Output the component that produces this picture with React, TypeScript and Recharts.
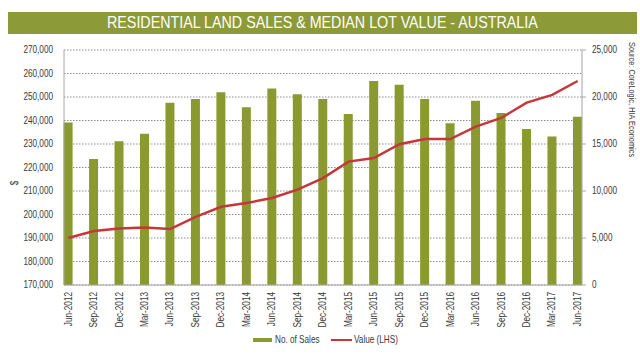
import { ComposedChart, Bar, Line, XAxis, YAxis, CartesianGrid } from "recharts";

const categories = [
  "Jun-2012", "Sep-2012", "Dec-2012", "Mar-2013", "Jun-2013", "Sep-2013", "Dec-2013",
  "Mar-2014", "Jun-2014", "Sep-2014", "Dec-2014", "Mar-2015", "Jun-2015", "Sep-2015",
  "Dec-2015", "Mar-2016", "Jun-2016", "Sep-2016", "Dec-2016", "Mar-2017", "Jun-2017",
];

// No. of Sales (right axis)
const salesCount = [
  17300, 13400, 15300, 16100, 19400, 19800, 20500, 18900, 20900, 20300, 19800,
  18200, 21700, 21300, 19800, 17200, 19600, 18300, 16600, 15800, 17900,
];

// Median lot value (left axis)
const lotValue = [
  190000, 193000, 194000, 194500, 193800, 199000, 203300, 204900, 207000, 210600, 215500,
  222500, 224000, 229900, 232100, 232100, 237400, 241100, 247600, 250900, 256800,
];

const leftTicks = [170000, 180000, 190000, 200000, 210000, 220000, 230000, 240000, 250000, 260000, 270000];
const rightTicks = [0, 5000, 10000, 15000, 20000, 25000];

const data = categories.map((label, i) => ({
  idx: i,
  label,
  sales: salesCount[i],
  value: lotValue[i],
}));

const FONT = '"Liberation Sans", Arial, sans-serif';
const SQUEEZE = 0.82; // fake Arial Narrow
const GREEN = "#8a9a30";
const RED = "#c4383a";
const AXIS = "#a6a6a6";
const TEXT = "#3a3a3a";

const fmt = (v: number) => v.toLocaleString("en-US");

// narrow text drawn at (x, y), optionally rotated
const NText = ({ x, y, rotate = 0, anchor = "start", size = 10, children }: any) => (
  <text
    transform={`translate(${x},${y}) rotate(${rotate}) scale(${SQUEEZE},1)`}
    x={0}
    y={0}
    textAnchor={anchor}
    dominantBaseline="central"
    fontSize={size}
    fontFamily={FONT}
    fill={TEXT}
  >
    {children}
  </text>
);

const XTick = ({ x, y, payload }: any) => (
  <NText x={x} y={y} rotate={-90} anchor="end">
    {categories[payload.value]}
  </NText>
);

const LeftTick = ({ x, y, payload }: any) => (
  <NText x={x} y={y} anchor="end">
    {fmt(payload.value)}
  </NText>
);

const RightTick = ({ x, y, payload }: any) => (
  <NText x={x} y={y} anchor="start">
    {fmt(payload.value)}
  </NText>
);

export default function App() {
  return (
    <div
      style={{
        position: "absolute",
        left: 0,
        top: 0,
        width: 640,
        height: 355,
        background: "#fff",
        fontFamily: FONT,
      }}
    >
      <div
        style={{
          position: "absolute",
          left: 8,
          top: 12,
          width: 629,
          height: 22,
          background: "#8d9a38",
          color: "#fff",
          fontSize: 17,
          lineHeight: "22px",
          textAlign: "center",
          whiteSpace: "nowrap",
        }}
      >
        <span style={{ display: "inline-block", transform: "scaleX(0.84)" }}>
          RESIDENTIAL LAND SALES &amp; MEDIAN LOT VALUE - AUSTRALIA
        </span>
      </div>

      <ComposedChart
        width={640}
        height={355}
        data={data}
        margin={{ top: 50, right: 8, bottom: 20, left: 0 }}
      >
        <CartesianGrid
          yAxisId="left"
          vertical={false}
          stroke="#8c8c8c"
          strokeDasharray="1.5 1.5"
        />
        <XAxis
          dataKey="idx"
          type="number"
          domain={[-0.17, 20.17]}
          ticks={categories.map((_, i) => i)}
          interval={0}
          height={50}
          axisLine={{ stroke: AXIS }}
          tickLine={false}
          tickSize={0}
          tickMargin={7}
          tick={<XTick />}
        />
        <YAxis
          yAxisId="left"
          width={64}
          domain={[170000, 270000]}
          ticks={leftTicks}
          axisLine={{ stroke: AXIS }}
          tickLine={false}
          tickSize={6}
          tickMargin={5}
          tick={<LeftTick />}
          label={() => (
            <NText x={15} y={183} rotate={-90} anchor="middle">
              $
            </NText>
          )}
        />
        <YAxis
          yAxisId="right"
          orientation="right"
          width={50}
          domain={[0, 25000]}
          ticks={rightTicks}
          axisLine={{ stroke: AXIS }}
          tickLine={{ stroke: AXIS }}
          tickSize={4}
          tickMargin={6}
          tick={<RightTick />}
        />
        <Bar
          yAxisId="right"
          dataKey="sales"
          name="No. of Sales"
          fill={GREEN}
          barSize={9}
          isAnimationActive={false}
        />
        <Line
          yAxisId="left"
          dataKey="value"
          name="Value (LHS)"
          type="linear"
          stroke={RED}
          strokeWidth={2.5}
          dot={false}
          isAnimationActive={false}
        />
      </ComposedChart>

      <svg
        width={640}
        height={355}
        style={{ position: "absolute", left: 0, top: 0, pointerEvents: "none" }}
      >
        <NText x={632} y={42} rotate={90} anchor="start" size={9}>
          Source: CoreLogic, HIA Economics
        </NText>
        <rect x={253} y={338} width={19} height={4} fill={GREEN} />
        <NText x={275} y={340}>No. of Sales</NText>
        <line x1={331} y1={340} x2={352} y2={340} stroke={RED} strokeWidth={2} />
        <NText x={354} y={340}>Value (LHS)</NText>
      </svg>
    </div>
  );
}
